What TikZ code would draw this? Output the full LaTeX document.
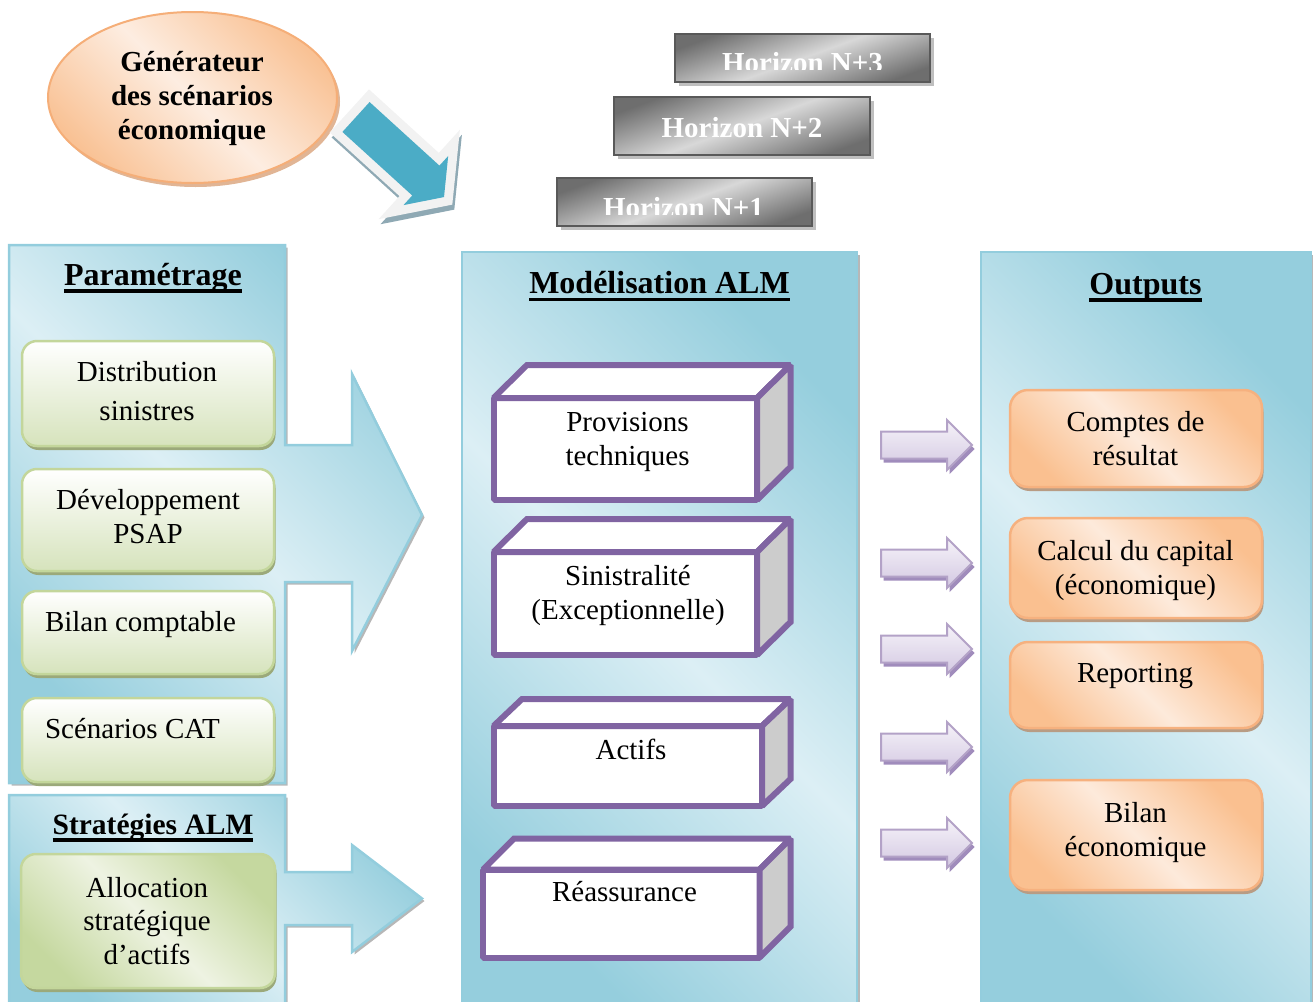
\documentclass[tikz,border=0pt]{standalone}
\usepackage{fontspec}
\setmainfont{Liberation Serif}
\usetikzlibrary{shapes.geometric,shapes.arrows,shadows,calc}

\definecolor{panelLine}{HTML}{93CDDD}
\definecolor{panelLight}{HTML}{DCEFF5}
\definecolor{panelDark}{HTML}{95CEDD}
\definecolor{greenLine}{HTML}{C3D69B}
\definecolor{greenDark}{HTML}{D6E3BC}
\definecolor{greenShadow}{HTML}{9BA97A}
\definecolor{allocDark}{HTML}{C5D89F}
\definecolor{allocLight}{HTML}{EEF3E2}
\definecolor{orangeLine}{HTML}{F6B17F}
\definecolor{orangeDark}{HTML}{FAC090}
\definecolor{orangeLight}{HTML}{FDEADB}
\definecolor{orangeShadow}{HTML}{B89C84}
\definecolor{cubeLine}{HTML}{8064A2}
\definecolor{cubeSide}{HTML}{CCCCCC}
\definecolor{lavLine}{HTML}{B3A2C7}
\definecolor{lavLight}{HTML}{F6F3F9}
\definecolor{lavDark}{HTML}{D3C8E2}
\definecolor{lavShadow}{HTML}{A08CBC}
\definecolor{arrowBlue}{HTML}{4BACC6}
\definecolor{arrowRim}{HTML}{F2F2F2}
\definecolor{arrowShade}{HTML}{8FA9B4}
\definecolor{hzLine}{HTML}{595959}
\definecolor{hzDark}{HTML}{6E6E6E}
\definecolor{hzLight}{HTML}{D8D8D8}
\definecolor{ellLine}{HTML}{F5AE78}
\definecolor{ellDark}{HTML}{F9C295}
\definecolor{ellLight}{HTML}{FDEDE1}
\definecolor{ellShadow}{HTML}{D9A27A}

% thick underline for the section titles
\newsavebox\ulbox
\newcommand\ulined[1]{\sbox\ulbox{#1}\rlap{\rule[-7.5pt]{\wd\ulbox}{3.2pt}}\usebox\ulbox}
% centred lines whose baseline is the first line's
\newcommand\stackedtext[1]{\begin{tabular}[t]{@{}c@{}}#1\end{tabular}}

\begin{document}
\begin{tikzpicture}[x=1pt,y=-1pt,
  panel/.style={draw=panelLine, line width=2.5pt, line join=miter,
    left color=panelDark, right color=panelDark, middle color=panelLight, shading angle=-45,
    drop shadow={shadow xshift=2.5pt, shadow yshift=-2.5pt, fill=black!40, opacity=0.7}},
  greenbox/.style={rectangle, rounded corners=15pt, draw=greenLine, line width=2.5pt,
    top color=white, bottom color=greenDark, minimum width=252pt, inner sep=0pt, outer sep=0pt,
    drop shadow={shadow xshift=1.5pt, shadow yshift=-4pt, fill=greenShadow, opacity=1}},
  allocbox/.style={greenbox, left color=allocDark, right color=allocDark, middle color=allocLight, shading angle=-45},
  orangebox/.style={rectangle, rounded corners=18pt, draw=orangeLine, line width=2.5pt,
    left color=orangeDark, right color=orangeDark, middle color=orangeLight, shading angle=-45,
    minimum width=252pt, inner sep=0pt, outer sep=0pt,
    drop shadow={shadow xshift=1.5pt, shadow yshift=-4pt, fill=orangeShadow, opacity=1}},
  cubeface/.style={rectangle, draw=cubeLine, line width=6pt, fill=white, line join=miter, miter limit=1.4,
    inner sep=0pt, outer sep=0pt},
  lavarrow/.style={single arrow, single arrow tip angle=90, single arrow head extend=11.5pt,
    single arrow head indent=0pt, minimum height=91pt, minimum width=0pt, inner xsep=0pt, inner ysep=12.5pt,
    outer sep=0pt, draw=lavLine, line width=2pt, top color=lavLight, bottom color=lavDark,
    drop shadow={shadow xshift=2.5pt, shadow yshift=-4pt, fill=lavShadow, opacity=1}, anchor=tail},
  gsarrow/.style={single arrow, rotate=-42.3, single arrow tip angle=107, single arrow head extend=13pt,
    single arrow head indent=0pt, minimum height=119pt, minimum width=0pt, inner xsep=0pt, inner ysep=20pt,
    outer sep=0pt, anchor=tail},
  hzbox/.style={rectangle, draw=hzLine, line width=2pt, left color=hzDark, right color=hzDark,
    middle color=hzLight, shading angle=20, inner sep=0pt, outer sep=0pt,
    drop shadow={shadow xshift=4pt, shadow yshift=-4pt, fill=black!25, opacity=1}},
  txt/.style={font=\fontsize{29}{34}\selectfont, inner sep=0pt, outer sep=0pt, anchor=base},
  btxt/.style={txt, font=\fontsize{29}{34}\selectfont\bfseries},
  hztxt/.style={btxt, text=white},
  ttl/.style={txt, font=\fontsize{32}{38}\selectfont\bfseries}
]
\useasboundingbox (0,0) rectangle (1313,1001);
\begin{scope}
\clip (0,0) rectangle (1313,1001);

% ---------- panels ----------
\path[panel] (9,245) -- (285,245) -- (285,445) -- (352,445) -- (352,374) -- (422,515)
  -- (352,651) -- (352,582) -- (285,582) -- (285,783) -- (9,783) -- cycle;
\path[panel] (9,795) -- (285,795) -- (285,872) -- (352,872) -- (352,845) -- (422,898.5)
  -- (352,952) -- (352,925) -- (285,925) -- (285,1012) -- (9,1012) -- cycle;
\path[panel] (462,252) rectangle (857,1012);
\path[panel] (981,252) rectangle (1311,1012);

% ---------- titles ----------
\node[ttl] (tparam) at (153,285) {\ulined{Paramétrage}};
\node[ttl, font=\fontsize{29.5}{36}\selectfont\bfseries] (tstrat) at (153,834) {\ulined{Stratégies ALM}};
\node[ttl] (tmodel) at (659.5,293.5) {\ulined{Modélisation ALM}};
\node[ttl] (tout) at (1145.5,294) {\ulined{Outputs}};

% ---------- input boxes ----------
\node[greenbox, minimum height=105pt] (dist) at (148,393.5) {};
\node[greenbox, minimum height=102pt] (dev) at (148,520) {};
\node[greenbox, minimum height=83pt] (bil) at (148,632.5) {};
\node[greenbox, minimum height=84pt] (cat) at (148,740) {};
\node[allocbox, minimum width=254pt, minimum height=134pt] (alloc) at (148,921) {};

\node[txt, font=\fontsize{29}{39}\selectfont] (distt) at (147,381) {\stackedtext{Distribution\\sinistres}};
\node[txt] (devt) at (148,509) {\stackedtext{Développement\\PSAP}};
\node[txt, anchor=base west] (bilt) at (45,631) {Bilan comptable};
\node[txt, anchor=base west] (catt) at (45,738) {Scénarios CAT};
\node[txt, font=\fontsize{29}{33.5}\selectfont] (allt) at (147,897) {\stackedtext{Allocation\\stratégique\\d’actifs}};

% ---------- model blocks ----------
\newcommand\cuboid[3]{%
  \draw[cubeface] (#1.north west) -- ++(#2,-#3) -- ($(#1.north east)+(#2,-#3)$) -- (#1.north east) -- cycle;
  \draw[cubeface, fill=cubeSide] (#1.north east) -- ++(#2,-#3) -- ($(#1.south east)+(#2,-#3)$) -- (#1.south east) -- cycle;}
\node[cubeface, minimum width=263.5pt, minimum height=102pt] (prov) at (625.25,449) {};
\cuboid{prov}{33.5}{33}
\node[cubeface, minimum width=263.5pt, minimum height=103pt] (sini) at (625.25,603.5) {};
\cuboid{sini}{33.5}{33}
\node[cubeface, minimum width=268.5pt, minimum height=80pt] (actf) at (627.75,766) {};
\cuboid{actf}{28.5}{27}
\node[cubeface, minimum width=276.5pt, minimum height=88pt] (reas) at (621.25,913.5) {};
\cuboid{reas}{31}{31}

\node[txt] (provt) at (627.5,431) {\stackedtext{Provisions\\techniques}};
\node[txt] (sinit) at (628,585) {\stackedtext{Sinistralité\\(Exceptionnelle)}};
\node[txt] (actft) at (631,759) {Actifs};
\node[txt] (reast) at (624.5,901.5) {Réassurance};

% ---------- output boxes ----------
\node[orangebox, minimum height=97pt] (cres) at (1136,438.5) {};
\node[orangebox, minimum height=100pt] (ccap) at (1136,568) {};
\node[orangebox, minimum height=86pt] (rep) at (1136,685) {};
\node[orangebox, minimum height=110pt] (beco) at (1136,835) {};

\node[txt] (crest) at (1135.5,431.5) {\stackedtext{Comptes de\\résultat}};
\node[txt] (ccapt) at (1135.5,560) {\stackedtext{Calcul du capital\\(économique)}};
\node[txt] (rept) at (1135,682) {Reporting};
\node[txt] (becot) at (1135.5,822) {\stackedtext{Bilan\\économique}};

% ---------- flow arrows towards the outputs ----------
\node[lavarrow] (f1) at (881,445) {};
\node[lavarrow] (f2) at (881,563) {};
\node[lavarrow] (f3) at (881,649) {};
\node[lavarrow] (f4) at (881,747) {};
\node[lavarrow] (f5) at (881,843) {};

% ---------- scenario generator ----------
\node[ellipse, minimum width=289pt, minimum height=171pt, draw=ellLine, line width=2pt,
  left color=ellDark, right color=ellDark, middle color=ellLight, shading angle=-45,
  drop shadow={shadow xshift=3pt, shadow yshift=-4pt, fill=ellShadow, opacity=0.8}] (gen) at (192.5,97.5) {};
\node[btxt] (gent) at (192,71.5) {\stackedtext{Générateur\\des scénarios\\économique}};

\node[gsarrow, fill=arrowShade, preaction={draw=arrowShade, line width=18pt, line join=miter}] (gshadow) at (358,122) {};
\node[gsarrow, fill=arrowBlue, preaction={draw=arrowRim, line width=18pt, line join=miter}] (garrow) at (356,117) {};

% ---------- projection horizons ----------
\node[hzbox, minimum width=255pt, minimum height=48pt] (h3) at (802.5,58) {};
\node[hzbox, minimum width=256pt, minimum height=58pt] (h2) at (742,126) {};
\node[hzbox, minimum width=255pt, minimum height=48pt] (h1) at (684.5,202) {};
\begin{scope}
  \clip (675,34) rectangle (930,69.5);
  \node[hztxt] (h3t) at (802.5,72) {Horizon N+3};
\end{scope}
\node[hztxt] (h2t) at (742,137) {Horizon N+2};
\begin{scope}
  \clip (557,178) rectangle (812,214.5);
  \node[hztxt] (h1t) at (683.5,217.5) {Horizon N+1};
\end{scope}

\end{scope}
\end{tikzpicture}
\end{document}
